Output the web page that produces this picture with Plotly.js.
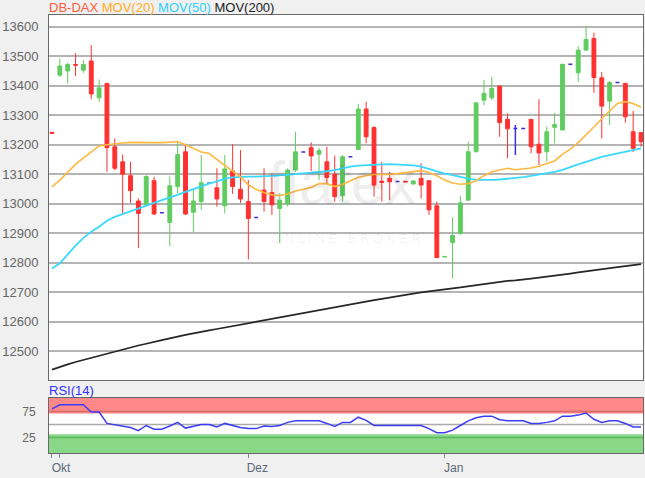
<!DOCTYPE html>
<html><head><meta charset="utf-8">
<script src="https://cdn.plot.ly/plotly-3.0.1.min.js"></script>
<style>html,body{margin:0;padding:0;background:#f0f0f0;}#chart{width:645px;height:478px;}</style>
</head><body><div id="chart"></div>
<script>
// session index (trading days shown)
const sessions = [0,1,2,3,4,5,6,7,8,9,10,11,12,13,14,15,16,17,18,19,20,21,22,23,24,25,26,27,28,29,30,31,32,33,34,35,36,37,38,39,40,41,42,43,44,45,46,47,48,49,50,51,52,53,54,55,56,57,58,59,60,61,62,63,64,65,66,67,68,69,70,71,72,73,74,75];
const openP  = [13242,13436,13450,13472,13453,13484,13359,13408,13193,13142,13095,13009,12996,13078,12969,12936,13058,13176,12971,13007,13069,13054,12993,13111,13049,13007,12953,13046,13038,12984,12999,13114,13175,13190,13168,13142,13100,13027,13159,13184,13321,13258,13076,13086,13075,13076,13067,13086,13078,12993,12819,12868,12899,13012,13176,13351,13359,13399,13286,13255,13255,13286,13202,13176,13259,13250,13473,13444,13521,13560,13427,13348,13411,13408,13244,13241];
const highP  = [13242,13493,13478,13510,13487,13538,13421,13408,13221,13167,13142,13018,13097,13092,12969,13092,13210,13199,13046,13165,13069,13120,13165,13202,13182,13080,12953,13120,13101,13037,13120,13244,13175,13208,13190,13193,13163,13165,13159,13338,13346,13263,13142,13108,13075,13076,13079,13137,13078,13007,12821,12953,13027,13210,13342,13419,13430,13399,13306,13267,13255,13286,13354,13261,13308,13473,13473,13534,13602,13580,13447,13416,13411,13408,13315,13241];
const lowP   = [13238,13430,13408,13433,13444,13354,13345,13108,13114,12967,13003,12849,12990,12962,12969,12856,13035,12962,12905,12979,13069,12990,12967,13033,13003,12811,12953,12973,12962,12866,12990,13108,13175,13111,13080,13067,13007,13007,13159,13184,13205,13024,13007,13012,13075,13074,13065,13018,12962,12817,12819,12747,12894,13012,13176,13334,13351,13227,13154,13165,13255,13171,13131,13142,13205,13250,13473,13413,13519,13376,13221,13267,13411,13275,13175,13193];
const closeP = [13239,13467,13472,13470,13472,13372,13393,13190,13120,13100,13044,12967,13092,12965,12969,13061,13167,12965,13009,13071,13069,13016,13118,13058,13016,12950,12953,13007,12996,13012,13114,13176,13175,13162,13180,13089,13024,13159,13159,13321,13227,13063,13072,13074,13075,13074,13077,13063,12979,12817,12821,12892,13003,13176,13342,13374,13391,13275,13254,13255,13255,13193,13172,13244,13269,13473,13473,13521,13557,13428,13331,13411,13411,13295,13188,13210];
const mov20  = [13057,13080,13107,13133,13155,13175,13196,13200,13204,13206,13208,13207,13208,13207,13207,13209,13210,13200,13188,13175,13170,13150,13127,13110,13090,13065,13048,13038,13030,13028,13033,13043,13050,13055,13068,13068,13058,13065,13078,13090,13095,13099,13099,13099,13102,13106,13110,13112,13106,13095,13080,13070,13066,13068,13078,13095,13108,13114,13120,13115,13117,13121,13127,13135,13145,13168,13185,13207,13232,13260,13288,13315,13340,13346,13340,13327];
const mov50  = [12780,12798,12828,12858,12884,12905,12922,12942,12955,12965,12975,12984,12993,13003,13012,13020,13030,13040,13050,13058,13068,13076,13085,13089,13091,13092,13092,13092,13094,13096,13099,13101,13103,13105,13107,13110,13114,13120,13126,13129,13131,13133,13133,13134,13133,13132,13130,13126,13118,13109,13102,13097,13090,13085,13081,13080,13081,13082,13084,13086,13090,13094,13098,13102,13108,13115,13125,13133,13142,13151,13159,13165,13171,13176,13181,13188];
const mov200 = [12437,12447,12455,12463,12470,12478,12485,12492,12500,12505,12512,12519,12525,12532,12537,12543,12550,12555,12560,12566,12570,12575,12580,12584,12588,12593,12598,12603,12608,12614,12619,12624,12629,12634,12639,12644,12649,12654,12658,12663,12668,12673,12677,12682,12687,12691,12695,12699,12703,12706,12710,12713,12716,12720,12724,12728,12731,12735,12738,12740,12742,12746,12749,12752,12756,12760,12763,12767,12771,12775,12779,12782,12785,12788,12791,12795];
const rsi14  = [80,88,88,88,88,74,74,52,49,47,44,38,48,41,41,47,54,43,46,50,50,45,52,48,44,42,42,47,46,48,54,57,57,57,57,52,46,54,54,64,58,48,48,48,48,48,48,48,42,34,34,39,48,57,63,66,66,59,57,57,57,52,52,54,57,66,66,68,72,60,54,57,57,52,45,45];

const priceTicks = [12500,12600,12700,12800,12900,13000,13100,13200,13300,13400,13500,13600];
const rsiTicks = [25,75];
const monthTickPos = [0,1,25,50];
const monthTickText = ['Okt','','Dez','Jan'];
const legendNames = ['DB-DAX','MOV(20)','MOV(50)','MOV(200)'];
const legendColors = ['#ff5a3c','#ffad1f','#2fd0ff','#222222'];

// split candles: real candles vs. flat (open == close) sessions drawn blue
function pick(arr, keep){ return arr.filter((v,i)=>keep(i)); }
const isFlat = i => openP[i] === closeP[i];
const isBar = i => !isFlat(i);

const traces = [
  {type:'scatter', mode:'lines', x:sessions, y:mov200, xaxis:'x', yaxis:'y', line:{color:'#262626', width:1.7}, hoverinfo:'skip'},
  {type:'scatter', mode:'lines', x:sessions, y:mov50, xaxis:'x', yaxis:'y', line:{color:'#3ad8ff', width:1.8}, hoverinfo:'skip'},
  {type:'scatter', mode:'lines', x:sessions, y:mov20, xaxis:'x', yaxis:'y', line:{color:'#ffb840', width:1.6}, hoverinfo:'skip'},
  {type:'candlestick', x:pick(sessions,isBar), open:pick(openP,isBar), high:pick(highP,isBar), low:pick(lowP,isBar), close:pick(closeP,isBar),
   xaxis:'x', yaxis:'y', whiskerwidth:0,
   increasing:{line:{color:'#60cc60', width:1}, fillcolor:'#60cc60'},
   decreasing:{line:{color:'#ff3030', width:1}, fillcolor:'#ff3030'}, hoverinfo:'skip'},
  {type:'candlestick', x:pick(sessions,isFlat), open:pick(openP,isFlat), high:pick(highP,isFlat), low:pick(lowP,isFlat), close:pick(closeP,isFlat),
   xaxis:'x', yaxis:'y', whiskerwidth:0,
   increasing:{line:{color:'#3b2fd8', width:1.5}, fillcolor:'#3b2fd8'},
   decreasing:{line:{color:'#3b2fd8', width:1.5}, fillcolor:'#3b2fd8'}, hoverinfo:'skip'},
  {type:'scatter', mode:'lines', x:sessions, y:rsi14, xaxis:'x2', yaxis:'y2', line:{color:'#3c3cf5', width:1.5}, hoverinfo:'skip'}
];

const legendHtml = legendNames.map((n,i)=>'<span style="color:'+legendColors[i]+'">'+n+'</span>').join(' ');

const axisLine = {showline:true, mirror:true, linecolor:'#6a6a6a', linewidth:1, zeroline:false};
const layout = {
  width:645, height:478,
  margin:{l:49, r:2, t:15, b:25, pad:0},
  paper_bgcolor:'#f0f0f0', plot_bgcolor:'#ffffff',
  showlegend:false, dragmode:false,
  font:{family:'"Liberation Sans", Arial, sans-serif', size:13, color:'#666666'},
  xaxis:Object.assign({domain:[0,1], anchor:'y', range:[-0.38,75.25], showticklabels:false, ticks:'', showgrid:false, rangeslider:{visible:false}, fixedrange:true}, axisLine),
  yaxis:Object.assign({domain:[0.1667,1], anchor:'x', range:[12402,13640], tickvals:priceTicks, ticktext:priceTicks.map(String), ticks:'', showgrid:true, gridcolor:'#b4b4b4', gridwidth:2, ticklabelstandoff:7, tickfont:{size:13,color:'#666666'}, fixedrange:true}, axisLine),
  xaxis2:Object.assign({domain:[0,1], anchor:'y2', matches:'x', tickvals:monthTickPos, ticktext:monthTickText, ticks:'outside', ticklen:4, tickcolor:'#7b8a9a', tickwidth:1, tickfont:{size:12,color:'#5b6a7b'}, ticklabelshift:9, showgrid:false, rangeslider:{visible:false}, fixedrange:true}, axisLine),
  yaxis2:Object.assign({domain:[0,0.1256], anchor:'x2', range:[-5,101], tickvals:rsiTicks, ticktext:rsiTicks.map(String), ticks:'', showgrid:false, ticklabelstandoff:10, tickfont:{size:12,color:'#666666'}, fixedrange:true}, axisLine),
  shapes:[
    {type:'rect', xref:'x2 domain', yref:'y2', x0:0, x1:1, y0:71, y1:101, fillcolor:'#ff8888', line:{width:0}, layer:'below'},
    {type:'rect', xref:'x2 domain', yref:'y2', x0:0, x1:1, y0:-5, y1:31, fillcolor:'#88d888', line:{width:0}, layer:'below'},
    {type:'line', xref:'x2 domain', yref:'y2', x0:0, x1:1, y0:75, y1:75, line:{color:'#d86a6a', width:1.5}, layer:'below'},
    {type:'line', xref:'x2 domain', yref:'y2', x0:0, x1:1, y0:50, y1:50, line:{color:'#aaaaaa', width:1.5}, layer:'below'},
    {type:'line', xref:'x2 domain', yref:'y2', x0:0, x1:1, y0:25, y1:25, line:{color:'#5cb85c', width:1.5}, layer:'below'}
  ],
  annotations:[
    {xref:'paper', yref:'paper', x:0, y:1, xanchor:'left', yanchor:'bottom', yshift:-2, xshift:-2, showarrow:false, text:legendHtml, font:{size:13}},
    {xref:'paper', yref:'paper', x:0, y:0.1256, xanchor:'left', yanchor:'bottom', yshift:-2, xshift:-2, showarrow:false, text:'RSI(14)', font:{size:13,color:'#3030ff'}},
    {xref:'paper', yref:'paper', x:0.365, y:0.70, xanchor:'left', yanchor:'top', showarrow:false, text:'flatex', font:{size:62,color:'rgba(0,0,0,0.065)'}},
    {xref:'paper', yref:'paper', x:0.37, y:0.49, xanchor:'left', yanchor:'middle', showarrow:false, text:'O N L I N E   B R O K E R', font:{size:13,color:'rgba(0,0,0,0.065)'}}
  ]
};
Plotly.newPlot('chart', traces, layout, {displayModeBar:false, staticPlot:true});
</script></body></html>
